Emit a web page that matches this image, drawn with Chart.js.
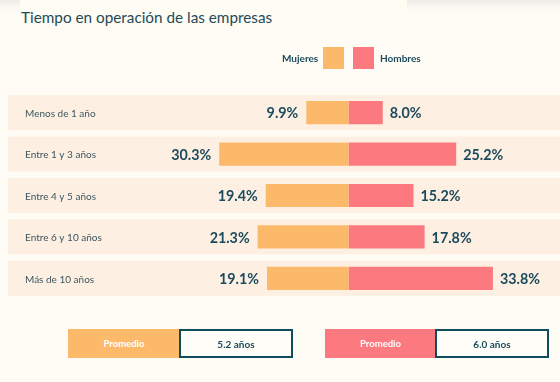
<!DOCTYPE html>
<html>
<head>
<meta charset="utf-8">
<script src="https://cdn.jsdelivr.net/npm/chart.js@4"></script>
<style>
  html, body { margin: 0; padding: 0; }
  body {
    width: 560px; height: 382px; position: relative; overflow: hidden;
    background: linear-gradient(to bottom, #eeece7 0px, #fbf9f2 8px, #fffcf5 14px);
    font-family: Lato, "Noto Sans", sans-serif;
  }
  #title {
    position: absolute; left: 20px; top: 0; width: 387px; height: 28px;
    background: #fffcf3; color: #1d4a5a; font-size: 15.3px; line-height: 15px;
    box-sizing: border-box; padding: 10px 0 0 1px;
  }
  #chart { position: absolute; left: 0; top: 0; }
  .legend { position: absolute; top: 47px; height: 22px; font-size: 10px; font-weight: 700; color: #1b4a5c; line-height: 22px; }
  .sw { position: absolute; top: 47px; width: 21px; height: 22px; }
  .box { position: absolute; top: 329px; height: 29px; box-sizing: border-box; font-size: 9.5px; font-weight: 700;
         display: flex; align-items: center; justify-content: center; }
  .fill { color: #fff; }
  .val { background: #fffdf7; border: 2px solid #0f4d5e; color: #1b4a5c; font-size: 10px; }
</style>
</head>
<body>
<div id="title">Tiempo en operación de las empresas</div>
<canvas id="chart" width="560" height="382"></canvas>
<div class="legend" id="lgM" style="left:282px">Mujeres</div>
<div class="sw" id="swM" style="left:323px"></div>
<div class="sw" id="swH" style="left:353px"></div>
<div class="legend" id="lgH" style="left:380px">Hombres</div>
<div class="box fill" id="pM" style="left:68px;width:112px">Promedio</div>
<div class="box val" id="vM" style="left:179px;width:114px"></div>
<div class="box fill" id="pH" style="left:325px;width:111px">Promedio</div>
<div class="box val" id="vH" style="left:435px;width:114px"></div>
<script>
const categories = ['Menos de 1 año', 'Entre 1 y 3 años', 'Entre 4 y 5 años', 'Entre 6 y 10 años', 'Más de 10 años'];
const mujeres = [9.9, 30.3, 19.4, 21.3, 19.1];
const hombres = [8.0, 25.2, 15.2, 17.8, 33.8];
const seriesNames = ['Mujeres', 'Hombres'];
const promedios = ['5.2 años', '6.0 años'];

const colorM = '#fdb96a';
const colorH = '#fc7a7f';
const textDark = '#1b4a5c';

document.getElementById('swM').style.background = colorM;
document.getElementById('swH').style.background = colorH;
document.getElementById('pM').style.background = colorM;
document.getElementById('pH').style.background = colorH;
document.getElementById('lgM').textContent = seriesNames[0];
document.getElementById('lgH').textContent = seriesNames[1];
document.getElementById('vM').textContent = promedios[0];
document.getElementById('vH').textContent = promedios[1];

// row bands + category names, drawn under the bars
const rowBands = {
  id: 'rowBands',
  beforeDatasetsDraw(chart) {
    const ctx = chart.ctx;
    const y = chart.scales.y;
    ctx.save();
    categories.forEach((cat, i) => {
      const cy = y.getPixelForValue(i);
      ctx.fillStyle = '#fdf0e2';
      ctx.fillRect(8, cy - 17.5, 552, 35);
      ctx.fillStyle = '#3b5560';
      ctx.font = '10px Lato, "Noto Sans", sans-serif';
      ctx.textBaseline = 'middle';
      ctx.textAlign = 'left';
      ctx.fillText(cat, 25, cy + 1);
    });
    ctx.restore();
  }
};

// percent labels at the end of each bar
const valueLabels = {
  id: 'valueLabels',
  afterDatasetsDraw(chart) {
    const ctx = chart.ctx;
    ctx.save();
    ctx.font = 'bold 14.3px Lato, "Noto Sans", sans-serif';
    ctx.fillStyle = textDark;
    ctx.textBaseline = 'middle';
    chart.getDatasetMeta(0).data.forEach((bar, i) => {
      ctx.textAlign = 'right';
      ctx.fillText(mujeres[i].toFixed(1) + '%', bar.x - 8, bar.y + 1);
    });
    chart.getDatasetMeta(1).data.forEach((bar, i) => {
      ctx.textAlign = 'left';
      ctx.fillText(hombres[i].toFixed(1) + '%', bar.x + 7, bar.y + 1);
    });
    ctx.restore();
  }
};

new Chart(document.getElementById('chart'), {
  type: 'bar',
  data: {
    labels: categories,
    datasets: [
      { label: seriesNames[0], data: mujeres.map(v => -v), backgroundColor: colorM },
      { label: seriesNames[1], data: hombres, backgroundColor: colorH }
    ]
  },
  options: {
    indexAxis: 'y',
    responsive: false,
    animation: false,
    events: [],
    layout: { padding: { left: 8, right: 0, top: 92, bottom: 83 } },
    datasets: { bar: { barPercentage: 0.56, categoryPercentage: 1, borderWidth: 0 } },
    scales: {
      x: { stacked: true, min: -79.75, max: 49.5, display: false },
      y: { stacked: true, display: false }
    },
    plugins: { legend: { display: false }, tooltip: { enabled: false }, title: { display: false } }
  },
  plugins: [rowBands, valueLabels]
});
</script>
</body>
</html>
